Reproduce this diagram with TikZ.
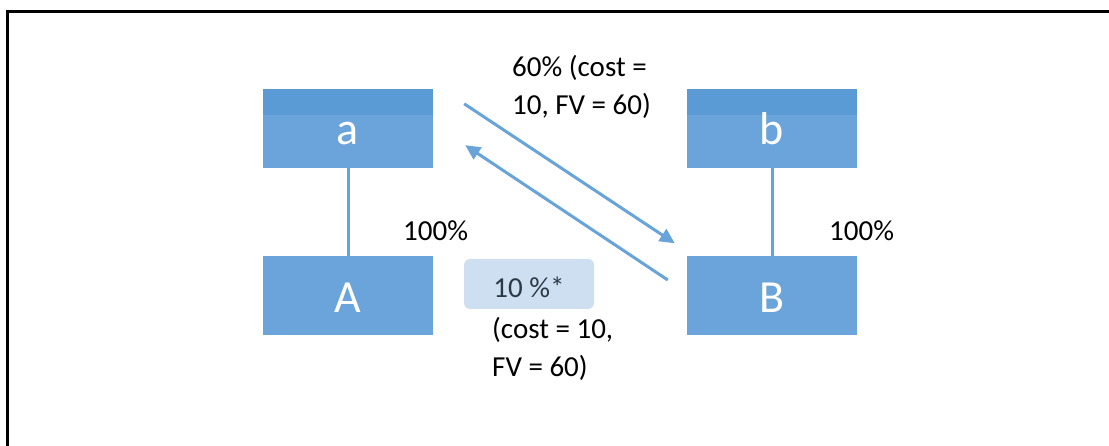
\documentclass[tikz,border=0pt]{standalone}
\usepackage{fontspec}
\setmainfont{Carlito}
\usetikzlibrary{arrows.meta}
\definecolor{boxBlue}{RGB}{106,164,218}
\definecolor{stripBlue}{RGB}{91,155,213}
\definecolor{linkBlue}{RGB}{104,163,218}
\definecolor{noteBlue}{RGB}{205,223,241}
\definecolor{noteText}{RGB}{44,58,72}
\newcommand{\labelFont}{\fontsize{29}{38}\selectfont}
\newcommand{\boxFont}{\fontsize{46}{50}\selectfont}

\begin{document}
\begin{tikzpicture}[x=1pt, y=-1pt]
  \tikzset{
    entity/.style={rectangle, fill=boxBlue, minimum width=170pt, minimum height=79pt,
      inner sep=0pt, text=white, font=\boxFont, text height=33pt, text depth=0pt},
    header/.style={path picture={\fill[stripBlue] (path picture bounding box.north west)
      rectangle ([yshift=-26pt]path picture bounding box.north east);}},
    link/.style={draw=linkBlue, line width=3pt},
    flow/.style={link, -{Triangle[length=15pt,width=14pt]}},
    share/.style={font=\labelFont, inner sep=0pt, align=left},
    note/.style={rectangle, rounded corners=6pt, fill=noteBlue, minimum width=130pt,
      minimum height=50pt, inner sep=0pt, text=noteText, font=\labelFont,
      text height=28pt, text depth=0pt}
  }
  \useasboundingbox (0,0) rectangle (1109,446);
  \draw[line width=3pt] (7,446) -- (7,12) -- (1109,12);

  \node[entity, header] (a) at (348,128.5) {a};
  \node[entity, header] (b) at (772,128.5) {b};
  \node[entity] (A) at (348,296) {A};
  \node[entity] (B) at (772,296) {B};

  \draw[link] (a.south) -- (A.north);
  \draw[link] (b.south) -- (B.north);
  \draw[flow] ([shift={(31,15)}]a.north east) -- ([shift={(-12,-13)}]B.north west);
  \draw[flow] ([shift={(-19,-16)}]B.west) -- ([shift={(32,-23)}]a.south east);

  % multi-line labels sit on the baseline of their last line
  \node[share, anchor=base west] (ownA) at (403,241) {100\%};
  \node[share, anchor=base west] (ownB) at (829,241) {100\%};
  \node[share, anchor=base west] (fwd) at (512,115) {60\% (cost =\\10, FV = 60)};
  \node[note] (pct) at (529,284) {10 \%*};
  \node[share, anchor=base west] (back) at (492,377) {(cost = 10,\\FV = 60)};
\end{tikzpicture}
\end{document}
